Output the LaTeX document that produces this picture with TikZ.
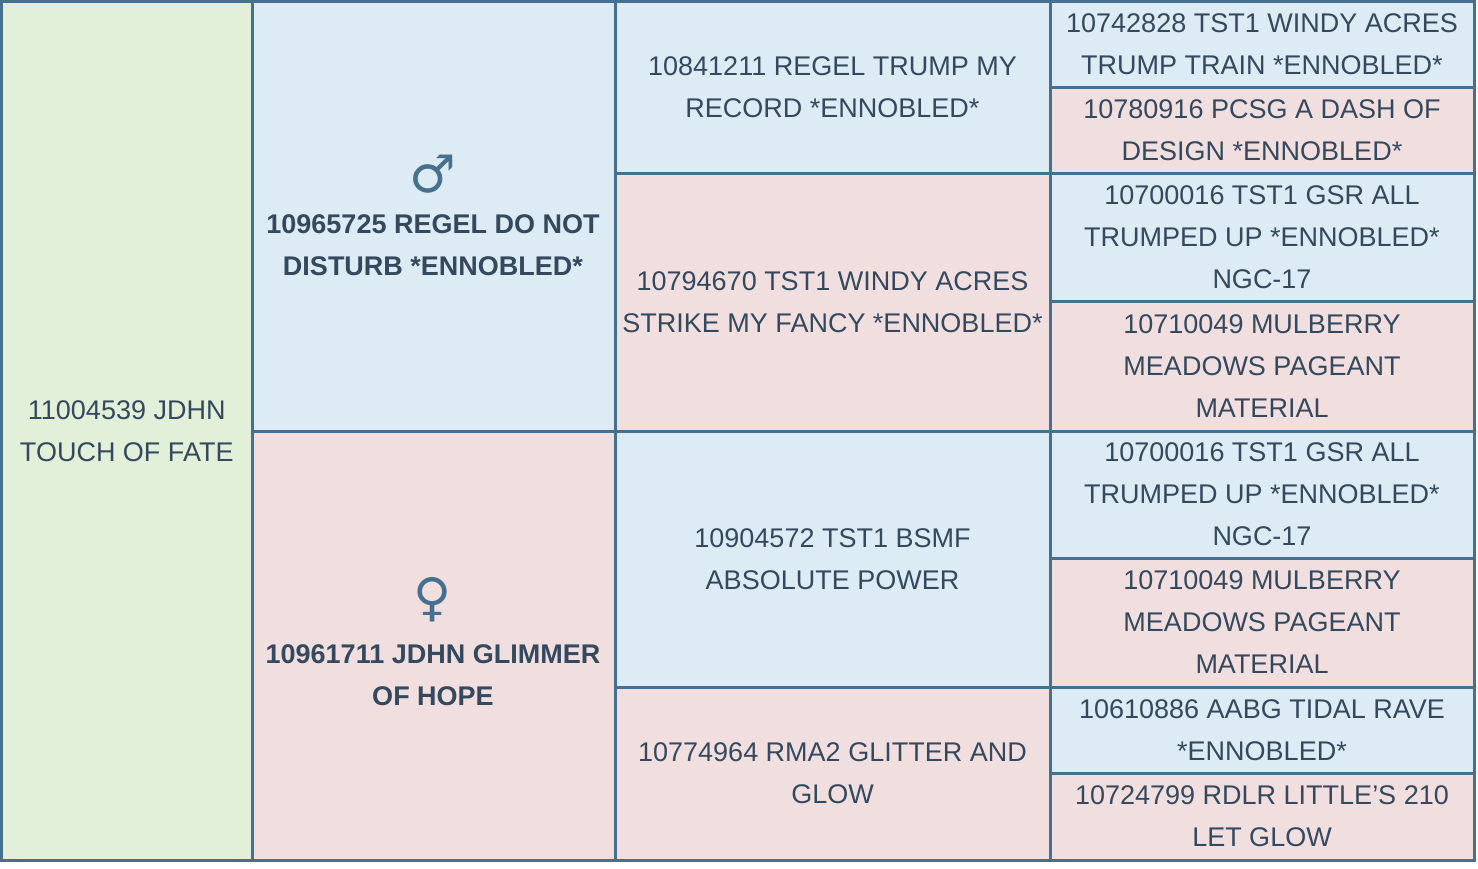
\documentclass[tikz,border=0pt]{standalone}
\usepackage{fontspec}
\setmainfont{Liberation Sans}
\newfontfamily\symfont{DejaVu Sans}
\definecolor{bc}{HTML}{45708F}
\definecolor{tc}{HTML}{34495E}
\definecolor{gcol}{HTML}{E2F0D9}
\definecolor{bcol}{HTML}{DDEBF4}
\definecolor{pcol}{HTML}{F1DFDF}
\newcommand\pcell[7]{\node[cellbox, fill=#6, minimum width={(#4-#2)*1pt}, minimum height={(#5-#3)*1pt}] (#1) at ({(#2+#4)/2},{(#3+#5)/2}) {#7};}
\tikzset{cellbox/.style={draw=bc, line width=3pt, inner sep=0pt, align=center, text=tc, font=\fontsize{27}{42}\selectfont}}
\begin{document}
\begin{tikzpicture}[x=1pt,y=-1pt]
\useasboundingbox (0,0) rectangle (1478,868);
\pcell{a}{1.5}{1.5}{252}{860}{gcol}{11004539 JDHN\\TOUCH OF FATE}
\pcell{s}{252}{1.5}{615}{431}{bcol}{}
\pcell{d}{252}{431}{615}{860}{pcol}{}
\node[text=tc, font=\fontsize{27}{42}\selectfont\bfseries, align=center] (st) at (433,245) {10965725 REGEL DO NOT\\DISTURB *ENNOBLED*};
\node[text=bc, font=\symfont\fontsize{52}{52}\selectfont] (sm) at (433,174) {♂};
\node[text=tc, font=\fontsize{27}{42}\selectfont\bfseries, align=center] (dt) at (433,675) {10961711 JDHN GLIMMER\\OF HOPE};
\node[text=bc, font=\symfont\fontsize{52}{52}\selectfont] (dm) at (433,600) {♀};
\pcell{ss}{615}{1.5}{1050}{173}{bcol}{10841211 REGEL TRUMP MY\\RECORD *ENNOBLED*}
\pcell{sd}{615}{173}{1050}{431}{pcol}{10794670 TST1 WINDY ACRES\\STRIKE MY FANCY *ENNOBLED*}
\pcell{ds}{615}{431}{1050}{687}{bcol}{10904572 TST1 BSMF\\ABSOLUTE POWER}
\pcell{dd}{615}{687}{1050}{860}{pcol}{10774964 RMA2 GLITTER AND\\GLOW}
\pcell{sss}{1050}{1.5}{1474}{87}{bcol}{10742828 TST1 WINDY ACRES\\TRUMP TRAIN *ENNOBLED*}
\pcell{ssd}{1050}{87}{1474}{173}{pcol}{10780916 PCSG A DASH OF\\DESIGN *ENNOBLED*}
\pcell{sds}{1050}{173}{1474}{301}{bcol}{10700016 TST1 GSR ALL\\TRUMPED UP *ENNOBLED*\\NGC-17}
\pcell{sdd}{1050}{301}{1474}{431}{pcol}{10710049 MULBERRY\\MEADOWS PAGEANT\\MATERIAL}
\pcell{dss}{1050}{431}{1474}{558}{bcol}{10700016 TST1 GSR ALL\\TRUMPED UP *ENNOBLED*\\NGC-17}
\pcell{dsd}{1050}{558}{1474}{687}{pcol}{10710049 MULBERRY\\MEADOWS PAGEANT\\MATERIAL}
\pcell{dds}{1050}{687}{1474}{773}{bcol}{10610886 AABG TIDAL RAVE\\*ENNOBLED*}
\pcell{ddd}{1050}{773}{1474}{860}{pcol}{10724799 RDLR LITTLE'S 210\\LET GLOW}
\end{tikzpicture}
\end{document}
